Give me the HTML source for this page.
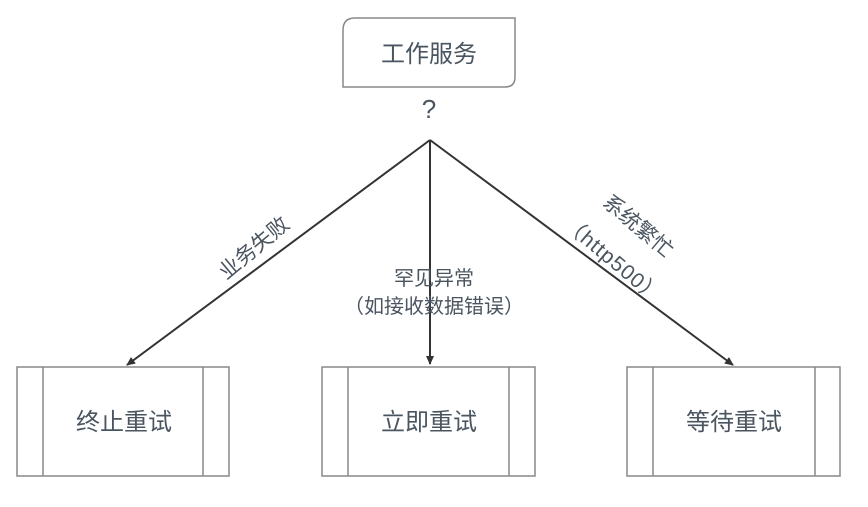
<!DOCTYPE html>
<html><head><meta charset="utf-8"><style>
body{margin:0;background:#fff;}
svg text{font-family:"Liberation Sans","Noto Sans CJK SC",sans-serif;fill:#4a5560;}
</style></head><body>
<svg width="868" height="502" viewBox="0 0 868 502" xmlns="http://www.w3.org/2000/svg">
<defs><marker id="a" markerWidth="10" markerHeight="10" refX="8" refY="5" orient="auto" markerUnits="userSpaceOnUse"><path d="M0,1 L9,5 L0,9 Z" fill="#333"/></marker></defs>
<path d="M355,18 H515 V77 Q515,87 505,87 H343 V30 Q343,18 355,18 Z" fill="#fff" stroke="#888" stroke-width="1.5"/>
<text x="429" y="62" font-size="24" text-anchor="middle">工作服务</text>
<text x="429" y="118" font-size="26" text-anchor="middle">?</text>
<g stroke="#333" stroke-width="2" fill="none">
<line x1="430" y1="140" x2="127" y2="365" marker-end="url(#a)"/>
<line x1="430" y1="140" x2="430" y2="364" marker-end="url(#a)"/>
<line x1="430" y1="140" x2="733" y2="365" marker-end="url(#a)"/>
</g>
<g fill="#fff" stroke="#888" stroke-width="1.5">
<rect x="17" y="367" width="212" height="109"/><line x1="43" y1="367" x2="43" y2="476"/><line x1="203" y1="367" x2="203" y2="476"/>
<rect x="322" y="367" width="213" height="109"/><line x1="348" y1="367" x2="348" y2="476"/><line x1="509" y1="367" x2="509" y2="476"/>
<rect x="627" y="367" width="213" height="109"/><line x1="653" y1="367" x2="653" y2="476"/><line x1="815" y1="367" x2="815" y2="476"/>
</g>
<text x="124" y="430" font-size="24" text-anchor="middle">终止重试</text>
<text x="429" y="430" font-size="24" text-anchor="middle">立即重试</text>
<text x="734" y="430" font-size="24" text-anchor="middle">等待重试</text>
<text x="0" y="7" font-size="21" text-anchor="middle" transform="translate(254,248) rotate(-40)">业务失败</text>
<text x="0" y="7" font-size="21" text-anchor="middle" transform="translate(638,226) rotate(40)">系统繁忙</text>
<text x="0" y="7" font-size="21" text-anchor="middle" letter-spacing="1" transform="translate(613,260) rotate(40)">（http500）</text>
<text x="434" y="285" font-size="20" text-anchor="middle">罕见异常</text>
<text x="434" y="313" font-size="20" text-anchor="middle">（如接收数据错误）</text>
</svg>
</body></html>
